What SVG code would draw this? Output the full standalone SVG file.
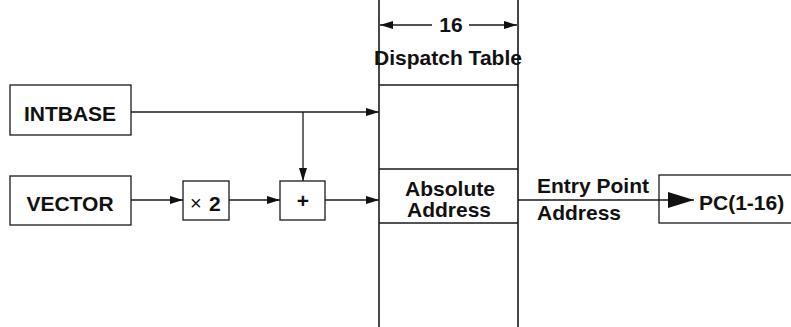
<svg xmlns="http://www.w3.org/2000/svg" width="791" height="327" viewBox="0 0 791 327">
  <style>
    .box { fill: #fff; stroke: #1a1a1a; stroke-width: 1.3; }
    .ln { fill: none; stroke: #1a1a1a; stroke-width: 1.3; }
    .wall { fill: none; stroke: #1a1a1a; stroke-width: 1.6; }
    .lbl { font-family: "Liberation Sans", Arial, Helvetica, sans-serif; font-weight: bold; font-size: 21px; fill: #111; }
    .mid { text-anchor: middle; }
  </style>
  <defs>
    <marker id="arr" markerWidth="13" markerHeight="8" refX="13" refY="4" orient="auto" markerUnits="userSpaceOnUse">
      <path d="M0,0 L13,4 L0,8 Z" fill="#111"/>
    </marker>
    <marker id="arrBig" markerWidth="26" markerHeight="16" refX="26" refY="8" orient="auto" markerUnits="userSpaceOnUse">
      <path d="M0,0 L26,8 L0,16 Z" fill="#111"/>
    </marker>
  </defs>

  <!-- dispatch table: two walls and its row dividers -->
  <g id="dispatch-table">
    <line class="wall" x1="379" y1="0" x2="379" y2="327"/>
    <line class="wall" x1="518" y1="0" x2="518" y2="327"/>
    <line class="ln" x1="379" y1="85" x2="518" y2="85"/>
    <line class="ln" x1="379" y1="169" x2="518" y2="169"/>
    <line class="ln" x1="379" y1="223" x2="518" y2="223"/>
    <text class="lbl mid" x="448" y="65">Dispatch Table</text>
    <text class="lbl mid" x="450" y="196">Absolute</text>
    <text class="lbl mid" x="449" y="217">Address</text>
  </g>

  <!-- width dimension -->
  <g id="width-dim">
    <line class="ln" x1="432" y1="25" x2="380" y2="25" marker-end="url(#arr)"/>
    <line class="ln" x1="469" y1="25" x2="517" y2="25" marker-end="url(#arr)"/>
    <text class="lbl mid" x="451" y="32">16</text>
  </g>

  <g id="intbase">
    <rect class="box" x="10" y="85" width="121" height="50"/>
    <text class="lbl mid" x="70" y="121">INTBASE</text>
  </g>

  <g id="vector">
    <rect class="box" x="10" y="176" width="121" height="49"/>
    <text class="lbl mid" x="70" y="211">VECTOR</text>
  </g>

  <g id="times2">
    <rect class="box" x="183" y="181" width="46" height="39"/>
    <text class="lbl" x="190" y="210" style="font-weight:normal;font-size:20px">×</text>
    <text class="lbl" x="209" y="211">2</text>
  </g>

  <g id="adder">
    <rect class="box" x="280" y="181" width="45" height="39"/>
    <text class="lbl mid" x="303" y="208">+</text>
  </g>

  <g id="pc">
    <rect class="box" x="659" y="175" width="140" height="48"/>
    <text class="lbl" x="699" y="210">PC(1-16)</text>
  </g>

  <g id="connectors">
    <line class="ln" x1="131" y1="112" x2="379" y2="112" marker-end="url(#arr)"/>
    <line class="ln" x1="303" y1="112" x2="303" y2="181" marker-end="url(#arr)"/>
    <line class="ln" x1="131" y1="200" x2="183" y2="200" marker-end="url(#arr)"/>
    <line class="ln" x1="229" y1="200" x2="280" y2="200" marker-end="url(#arr)"/>
    <line class="ln" x1="325" y1="200" x2="379" y2="200" marker-end="url(#arr)"/>
    <line class="ln" x1="518" y1="200" x2="694" y2="200" marker-end="url(#arrBig)"/>
    <text class="lbl" x="537" y="193">Entry Point</text>
    <text class="lbl" x="537" y="220">Address</text>
  </g>
</svg>
